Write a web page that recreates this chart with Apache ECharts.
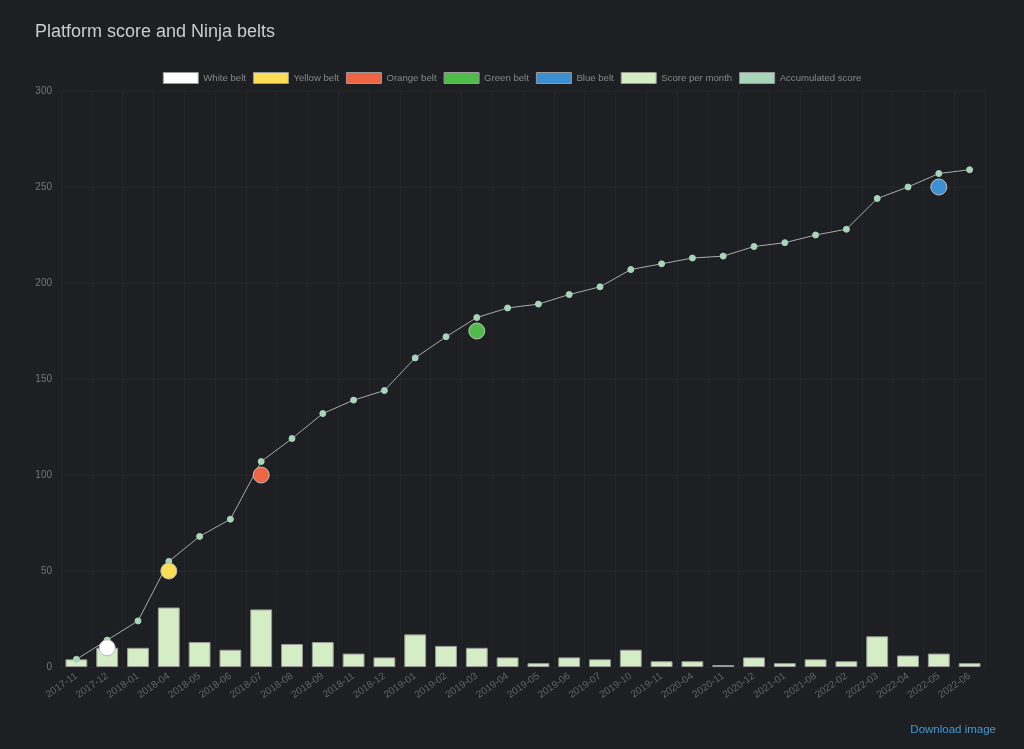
<!DOCTYPE html>
<html><head><meta charset="utf-8">
<script src="https://cdn.jsdelivr.net/npm/echarts@6/dist/echarts.min.js"></script>
<style>
html,body{margin:0;padding:0;background:#1e1f22;}
#c{width:1024px;height:749px;}
#dl{position:absolute;right:28px;top:723px;color:#3d9bd8;font:11.5px "Liberation Sans",Arial,sans-serif;}
</style></head><body>
<div id="c"></div>
<div id="dl">Download image</div>
<script>
const categories = ["2017-11","2017-12","2018-01","2018-04","2018-05","2018-06","2018-07","2018-08","2018-09","2018-11","2018-12","2019-01","2019-02","2019-03","2019-04","2019-05","2019-06","2019-07","2019-10","2019-11","2020-04","2020-11","2020-12","2021-01","2021-08","2022-02","2022-03","2022-04","2022-05","2022-06"];
const scorePerMonth = [4,10,10,31,13,9,30,12,13,7,5,17,11,10,5,2,5,4,9,3,3,1,5,2,4,3,16,6,7,2];
const accumulated = [4,14,24,55,68,77,107,119,132,139,144,161,172,182,187,189,194,198,207,210,213,214,219,221,225,228,244,250,257,259];
const belts = [
  {name:"White belt", cat:"2017-12", value:10, color:"#ffffff"},
  {name:"Yellow belt", cat:"2018-04", value:50, color:"#fbdd56"},
  {name:"Orange belt", cat:"2018-07", value:100, color:"#ee6444"},
  {name:"Green belt", cat:"2019-03", value:175, color:"#4fbc4a"},
  {name:"Blue belt", cat:"2022-05", value:250, color:"#3c8fd0"}
];
const yTicks = [0,50,100,150,200,250,300];

const chart = echarts.init(document.getElementById('c'));
const font = '"Liberation Sans", Arial, sans-serif';
const series = belts.map(b => ({
  name: b.name, type: 'scatter', z: 5,
  symbolSize: 16,
  itemStyle: {color: b.color, borderColor: '#bbbbbb', borderWidth: 1, opacity: 1},
  data: [[b.cat, b.value]]
}));
series.push({
  name: 'Score per month', type: 'bar', barWidth: '71%', z: 2,
  itemStyle: {color: '#d4edc4', borderColor: '#999999', borderWidth: 1},
  data: scorePerMonth
});
series.push({
  name: 'Accumulated score', type: 'line', z: 3,
  symbol: 'circle', symbolSize: 6, showAllSymbol: true,
  lineStyle: {color: '#aaaaaa', width: 1},
  itemStyle: {color: '#a8d5ba', borderColor: '#a8d5ba'},
  data: accumulated
});
chart.setOption({
  backgroundColor: '#1e1f22',
  animation: false,
  title: {text: 'Platform score and Ninja belts', left: 30, top: 18,
    textStyle: {color: '#cccccc', fontSize: 18, fontWeight: 'normal', fontFamily: font}},
  legend: {
    top: 67, left: 'center', icon: 'rect', itemWidth: 35, itemHeight: 11, itemGap: 7,
    textStyle: {color: '#888888', fontSize: 9.6, fontFamily: font},
    data: belts.map(b => ({name: b.name, itemStyle: {color: b.color, borderColor: '#999', borderWidth: 1}}))
      .concat([{name: 'Score per month', itemStyle: {color: '#d4edc4', borderColor: '#999', borderWidth: 1}},
               {name: 'Accumulated score', itemStyle: {color: '#a8d5ba', borderColor: '#999', borderWidth: 1}}])
  },
  grid: {left: 61, right: 39, top: 91, bottom: 82, containLabel: false},
  xAxis: {
    type: 'category', data: categories, boundaryGap: true,
    axisLine: {show: false}, axisTick: {show: false},
    axisLabel: {color: '#666666', fontSize: 10, rotate: 35, fontFamily: font, interval: 0, margin: 8},
    splitLine: {show: true, interval: 0, lineStyle: {color: '#242528', width: 1}}
  },
  yAxis: {
    type: 'value', min: yTicks[0], max: yTicks[yTicks.length-1], interval: 50,
    axisLine: {show: false}, axisTick: {show: false},
    axisLabel: {color: '#777777', fontSize: 10, fontFamily: font, margin: 9},
    splitLine: {lineStyle: {color: '#26272a', width: 1}}
  },
  series: series
});
</script>
</body></html>
